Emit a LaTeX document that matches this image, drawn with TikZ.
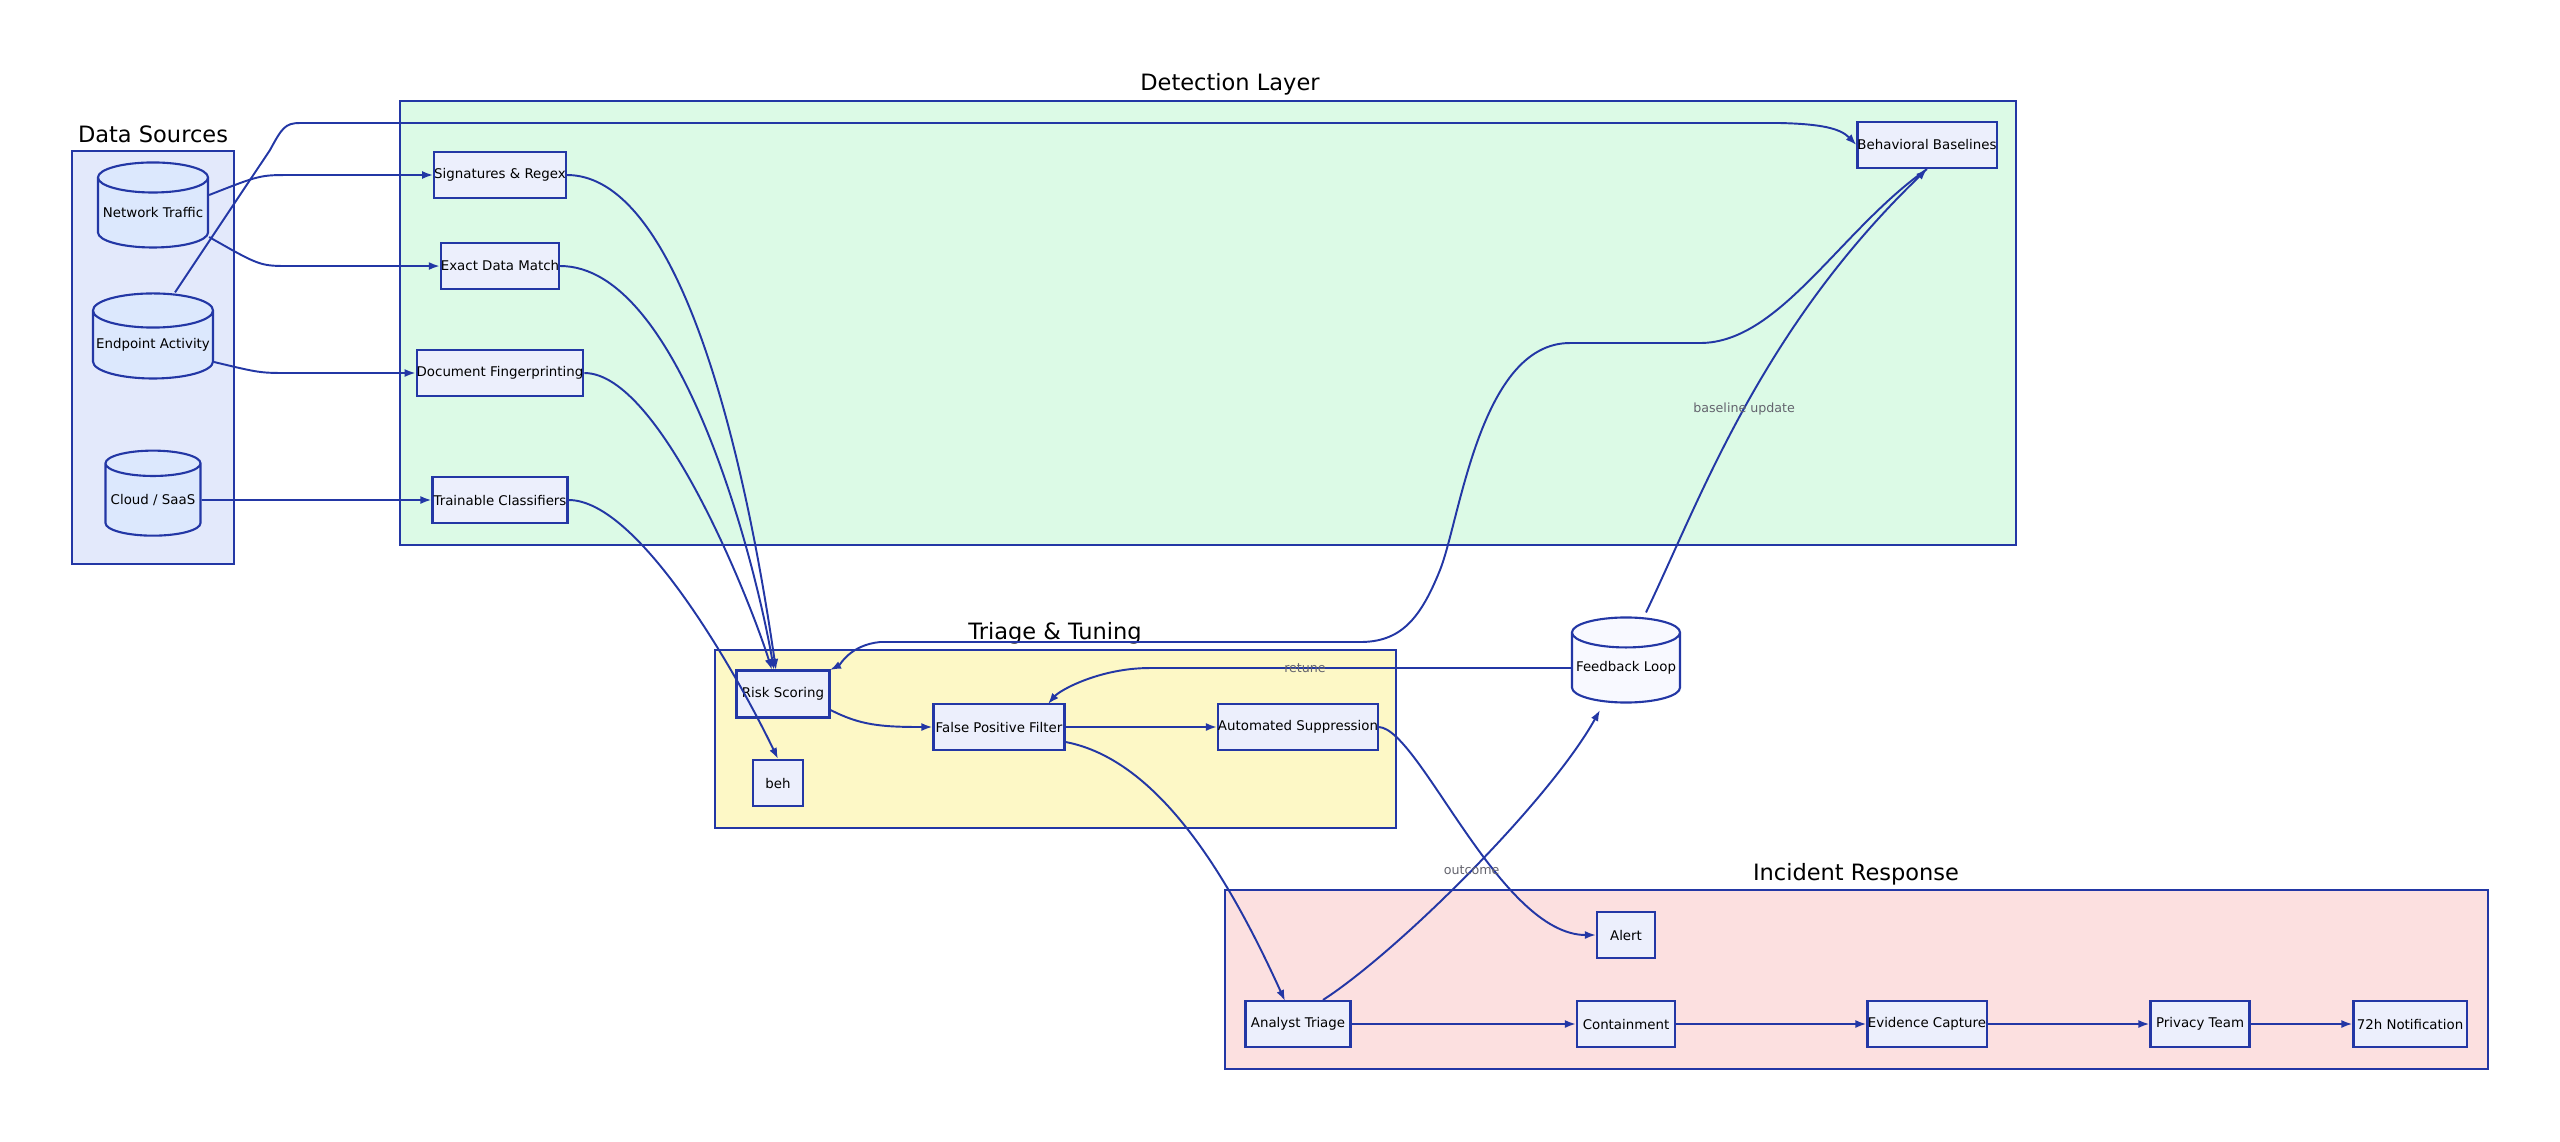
\documentclass[tikz,border=0pt]{standalone}
\usepackage{fontspec}
\setmainfont{DejaVu Sans}
\usetikzlibrary{positioning,shapes.geometric,arrows.meta}
\definecolor{edgeblue}{RGB}{35,55,165}
\definecolor{srcfill}{RGB}{227,233,251}
\definecolor{detfill}{RGB}{220,250,230}
\definecolor{trifill}{RGB}{253,248,198}
\definecolor{incfill}{RGB}{252,224,224}
\definecolor{boxfill}{RGB}{236,239,252}
\definecolor{cylfill}{RGB}{220,232,253}
\definecolor{lblgray}{RGB}{100,100,110}

\tikzset{
    box/.style={draw=edgeblue, fill=boxfill, line width=0.6pt, font=\fontsize{3.8}{4.5}\selectfont, inner sep=0pt},
    db/.style={cylinder, shape border rotate=90, aspect=0.3, draw=edgeblue, fill=cylfill, line width=0.6pt, font=\fontsize{3.8}{4.5}\selectfont, inner sep=0pt},
    group/.style={draw=edgeblue, line width=0.6pt},
    title/.style={font=\fontsize{6.4}{7.5}\selectfont},
    flow/.style={-{Latex[length=1.1mm,width=0.8mm]}, draw=edgeblue, line width=0.55pt},
    lbl/.style={font=\fontsize{3.6}{4.2}\selectfont, text=lblgray, fill=none, inner sep=1pt}
}

\begin{document}
\begin{tikzpicture}[x=0.01cm, y=-0.01cm]
    \useasboundingbox (0,0) rectangle (2560,1141);

    % groups
    \draw[group, fill=srcfill] (72,151) rectangle (234,564);
    \node[title] (srctitle) at (153,134) {Data Sources};
    \draw[group, fill=detfill] (400,101) rectangle (2016,545);
    \node[title] (dettitle) at (1230,84) {Detection Layer};
    \draw[group, fill=trifill] (715,650) rectangle (1396,828);
    \node[title] (trititle) at (1055,633) {Triage \& Tuning};
    \draw[group, fill=incfill] (1225,890) rectangle (2488,1069);
    \node[title] (inctitle) at (1856,874) {Incident Response};

    % data sources
    \node[db, minimum width=1.1cm, minimum height=0.85cm] (net) at (153,213) {Network Traffic};
    \node[db, minimum width=1.2cm, minimum height=0.85cm] (endp) at (153,345) {Endpoint Activity};
    \node[db, minimum width=0.95cm, minimum height=0.85cm] (cloud) at (153,500) {Cloud / SaaS};

    % detection
    \node[box, minimum width=1.29cm, minimum height=0.46cm] (sig) at (500,175) {Signatures \& Regex};
    \node[box, minimum width=1.18cm, minimum height=0.46cm] (edm) at (500,266) {Exact Data Match};
    \node[box, minimum width=1.59cm, minimum height=0.46cm] (docfp) at (500,373) {Document Fingerprinting};
    \node[box, minimum width=1.35cm, minimum height=0.46cm] (clf) at (500,500) {Trainable Classifiers};
    \node[box, minimum width=1.36cm, minimum height=0.46cm] (base) at (1927,145) {Behavioral Baselines};

    % triage
    \node[box, minimum width=0.93cm, minimum height=0.47cm] (risk) at (783,694) {Risk Scoring};
    \node[box, minimum width=0.50cm, minimum height=0.46cm] (beh) at (778,783) {beh};
    \node[box, minimum width=1.31cm, minimum height=0.46cm] (fpf) at (999,727) {False Positive Filter};
    \node[box, minimum width=1.54cm, minimum height=0.46cm] (supp) at (1298,727) {Automated Suppression};
    \node[db, fill=boxfill!80!blue!10, minimum width=1.08cm, minimum height=0.85cm] (fb) at (1626,668) {Feedback Loop};

    % incident response
    \node[box, minimum width=0.58cm, minimum height=0.46cm] (alert) at (1626,935) {Alert};
    \node[box, minimum width=1.05cm, minimum height=0.46cm] (triage) at (1298,1024) {Analyst Triage};
    \node[box, minimum width=0.98cm, minimum height=0.46cm] (contain) at (1626,1024) {Containment};
    \node[box, minimum width=1.19cm, minimum height=0.46cm] (evid) at (1927,1024) {Evidence Capture};
    \node[box, minimum width=0.99cm, minimum height=0.46cm] (privacy) at (2200,1024) {Privacy Team};
    \node[box, minimum width=1.13cm, minimum height=0.46cm] (notify) at (2410,1024) {72h Notification};

    % sources to detectors
    \draw[flow] (net.east) ++(0,-18) .. controls (260,175) and (260,175) .. (290,175) -- (sig.west);
    \draw[flow] (net.east) ++(0,24) .. controls (260,266) and (260,266) .. (290,266) -- (edm.west);
    \draw[flow] (endp.east) ++(0,17) .. controls (260,373) and (260,373) .. (290,373) -- (docfp.west);
    \draw[flow] (cloud.east) -- (clf.west);
    \draw[flow] (endp.north) ++(22,0) -- (270,150) .. controls (282,128) and (285,123) .. (300,123)
        -- (1780,123) .. controls (1820,124) and (1840,128) .. (base.west);

    % detectors to triage
    \draw[flow] (sig.east) .. controls (700,175) and (760,560) .. (776,670);
    \draw[flow] (edm.east) .. controls (680,266) and (755,560) .. (774,670);
    \draw[flow] (docfp.east) .. controls (660,373) and (750,600) .. (772,670);
    \draw[flow] (clf.east) .. controls (640,500) and (740,680) .. (beh.north);
    \draw[flow] (base.south) .. controls (1840,230) and (1780,343) .. (1700,343) -- (1570,343)
        .. controls (1480,343) and (1460,520) .. (1440,570) .. controls (1420,620) and (1400,642) .. (1360,642)
        -- (880,642) .. controls (850,645) and (840,665) .. (830,670);

    % triage flow
    \draw[flow] (risk.east) ++(0,16) .. controls (860,725) and (880,727) .. (fpf.west);
    \draw[flow] (fpf.east) -- (supp.west);
    \draw[flow] (fb.west) -- (1150,668) .. controls (1100,668) and (1060,690) .. (1048,704)
        node[lbl, pos=0, xshift=-0cm] {};
    \node[lbl] (retunelbl) at (1305,668) {retune};
    \draw[flow] (fb.north) ++(20,-4) .. controls (1700,500) and (1760,330) .. (base.south)
        node[lbl, pos=0.5] {baseline update};
    \draw[flow] (supp.east) .. controls (1420,730) and (1500,935) .. (alert.west);
    \draw[flow] (fpf.east) ++(0,15) .. controls (1160,760) and (1230,880) .. (1285,1001);
    \draw[flow] (triage.north) ++(25,0) .. controls (1400,950) and (1550,800) .. (1600,710)
        node[lbl, pos=0.5] {outcome};

    % incident response flow
    \draw[flow] (triage.east) -- (contain.west);
    \draw[flow] (contain.east) -- (evid.west);
    \draw[flow] (evid.east) -- (privacy.west);
    \draw[flow] (privacy.east) -- (notify.west);
\end{tikzpicture}
\end{document}
